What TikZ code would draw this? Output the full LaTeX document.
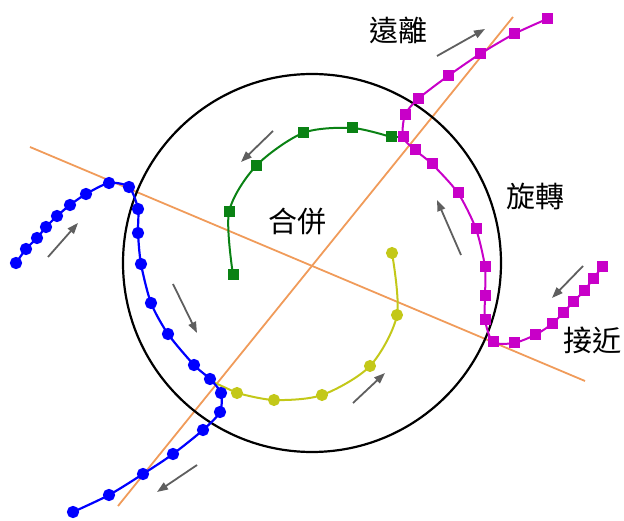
\documentclass[tikz,border=0pt]{standalone}
\usepackage{fontspec}
\newfontfamily\cjk{Noto Sans CJK TC}
\usetikzlibrary{arrows.meta,plotmarks}
\definecolor{axisorange}{RGB}{240,155,90}
\definecolor{trgreen}{RGB}{10,130,20}
\definecolor{trmag}{RGB}{200,0,200}
\definecolor{tryel}{RGB}{195,200,25}
\definecolor{arrgray}{RGB}{95,95,95}
\tikzset{
  axisline/.style={draw=axisorange, line width=1.8pt},
  ring/.style={draw=black, line width=2.2pt},
  movearrow/.style={draw=arrgray, line width=1.8pt, -{Triangle[length=11pt,width=8pt]}},
  bluetrack/.style={draw=blue, line width=2.2pt, mark=*, mark size=5pt, mark options={fill=blue,draw=blue}},
  magtrack/.style={draw=trmag, line width=2pt, mark=square*, mark size=4.5pt, mark options={fill=trmag,draw=trmag}},
  greentrack/.style={draw=trgreen, line width=2pt, mark=square*, mark size=4.5pt, mark options={fill=trgreen,draw=trgreen}},
  yeltrack/.style={draw=tryel, line width=2pt, mark=*, mark size=5pt, mark options={fill=tryel,draw=tryel}},
  lbl/.style={font=\cjk\fontsize{29}{33}\selectfont, text=black, inner sep=0pt}
}
\begin{document}
\begin{tikzpicture}[x=1pt,y=-1pt]
\useasboundingbox (0,0) rectangle (624,521);
% axes
\coordinate (la) at (30,147);
\coordinate (lb) at (585,381);
\coordinate (ma) at (118,506);
\coordinate (mb) at (513,17);
\coordinate (cc) at (312,263);
\draw[axisline] (la) -- (lb);
\draw[axisline] (ma) -- (mb);
% circle
\draw[ring] (cc) circle[radius=189pt];
% green track to magenta junction
\draw[draw=trgreen, line width=2pt] (391,137) -- (403,137);
% yellow to blue junction
\draw[draw=tryel, line width=2pt] (237,393) -- (213,382);
% blue
\draw[bluetrack] plot[smooth, tension=0.45] coordinates {
 (16,263) (26,249) (37,238) (46,227) (57,216) (70,205) (86,194) (109,183) (129,187)
 (138,209) (138,233) (141,264) (151,303) (168,334) (194,365) (210,379) (221,393)
 (220,412) (203,430) (173,454) (143,474) (109,495) (73,512)};
% magenta
\draw[magtrack] plot[smooth, tension=0.45] coordinates {
 (547,19) (514,34) (480,54) (448,76) (418,99) (405,115) (403,137) (415,150) (432,164)
 (458,193) (476,229) (485,267) (485,296) (485,320) (493,342) (514,343) (535,335)
 (552,324) (563,313) (573,302) (584,291) (593,279) (602,267)};
% green
\draw[greentrack] plot[smooth, tension=0.5] coordinates {
 (233,275) (229,212) (256,166) (303,133) (352,128) (391,137)};
% yellow
\draw[yeltrack] plot[smooth, tension=0.5] coordinates {
 (392,253) (397,315) (370,366) (322,395) (274,400) (237,393)};
% arrows
\coordinate (a1s) at (48,257);  \coordinate (a1e) at (78,223);
\coordinate (a2s) at (173,284); \coordinate (a2e) at (197,333);
\coordinate (a3s) at (197,465); \coordinate (a3e) at (157,492);
\coordinate (a4s) at (353,403); \coordinate (a4e) at (385,373);
\coordinate (a5s) at (461,255); \coordinate (a5e) at (437,200);
\coordinate (a6s) at (583,266); \coordinate (a6e) at (552,298);
\coordinate (a7s) at (437,56);  \coordinate (a7e) at (485,29);
\coordinate (a8s) at (273,131); \coordinate (a8e) at (241,162);
\foreach \i in {1,...,8} \draw[movearrow] (a\i s) -- (a\i e);
% labels
\node[lbl] (leave) at (398,30) {遠離};
\node[lbl] (rotate) at (535,196) {旋轉};
\node[lbl] (merge) at (297,222) {合併};
\node[lbl] (approach) at (592,340) {接近};
\end{tikzpicture}
\end{document}
